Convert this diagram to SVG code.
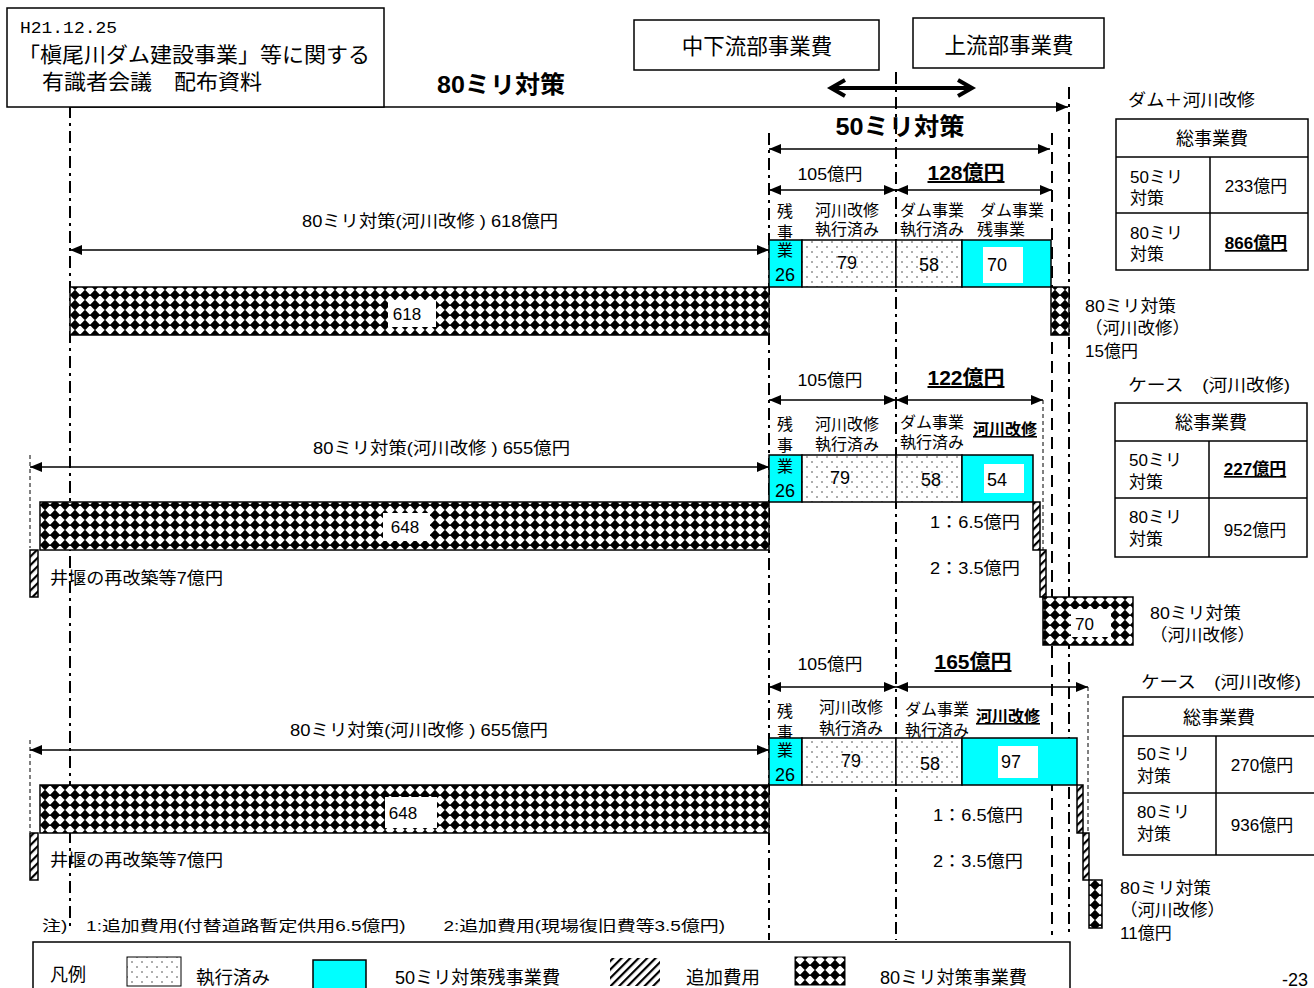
<svg xmlns="http://www.w3.org/2000/svg" width="1314" height="988" viewBox="0 0 1314 988">
<style>
.t{font-family:"Liberation Sans","Noto Sans CJK JP",sans-serif;font-size:16px;fill:#000}
.n{font-size:18px}
.m{font-size:17px}
.c{text-anchor:middle}
.b{font-weight:bold}
.u{text-decoration:underline}
.box{fill:#fff;stroke:#000;stroke-width:1.5}
.bar{stroke:#000;stroke-width:1.5}
.cy{fill:#00ffff;stroke:#000;stroke-width:1.5}
.dd{fill:none;stroke:#000;stroke-width:2;stroke-dasharray:12 5 3 5}
.ld{fill:none;stroke:#000;stroke-width:2;stroke-dasharray:12 7}
.td{fill:none;stroke:#000;stroke-width:1;stroke-dasharray:4 3}
.ar{fill:none;stroke:#000;stroke-width:1.5;marker-start:url(#ah);marker-end:url(#ah)}
.ar1{fill:none;stroke:#000;stroke-width:1.5;marker-end:url(#ah)}
.tb{fill:none;stroke:#000;stroke-width:1.5}
.wl{fill:#fff}
</style>
<defs>
<marker id="ah" viewBox="0 0 12 10" refX="12" refY="5" markerWidth="12" markerHeight="10" markerUnits="userSpaceOnUse" orient="auto-start-reverse"><path d="M0 0L12 5L0 10Z" fill="#000"/></marker>
<pattern id="dots" width="10" height="10" patternUnits="userSpaceOnUse"><rect width="10" height="10" fill="#fff"/><circle cx="2" cy="2" r="0.8" fill="#444"/><circle cx="7" cy="7" r="0.8" fill="#444"/></pattern>
<pattern id="chk" width="10" height="10" patternUnits="userSpaceOnUse"><rect width="10" height="10" fill="#fff"/><path d="M5 -0.3L10.3 5L5 10.3L-0.3 5Z" fill="#000"/></pattern>
<pattern id="hatch" width="6" height="6" patternUnits="userSpaceOnUse" patternTransform="rotate(45)"><rect width="6" height="6" fill="#fff"/><rect width="2.2" height="6" fill="#000"/></pattern>
</defs>

<g id="connectors">
<line class="dd" x1="70" y1="106" x2="70" y2="930"/>
<line class="dd" x1="769" y1="133" x2="769" y2="940"/>
<line class="dd" x1="896" y1="72" x2="896" y2="940"/>
<line class="ld" x1="1052" y1="133" x2="1052" y2="935"/>
<line class="dd" x1="1069" y1="87" x2="1069" y2="935"/>
<line class="td" x1="30" y1="455" x2="30" y2="548"/>
<line class="td" x1="30" y1="740" x2="30" y2="832"/>
<line class="td" x1="1043" y1="400" x2="1043" y2="600"/>
<line class="td" x1="1088" y1="687" x2="1088" y2="880"/>
<line class="ar1" x1="70" y1="107" x2="1068" y2="107"/>
<g fill="none" stroke="#000" stroke-width="4">
<line x1="831" y1="88" x2="972" y2="88"/>
<polyline points="845,80 831,88 845,96"/>
<polyline points="958,80 972,88 958,96"/>
</g>
<line class="ar" x1="769" y1="149" x2="1050" y2="149"/>
<line class="ar" x1="769" y1="190" x2="896" y2="190"/>
<line class="ar" x1="896" y1="190" x2="1052" y2="190"/>
<line class="ar" x1="70" y1="250" x2="769" y2="250"/>
<line class="ar" x1="769" y1="400" x2="896" y2="400"/>
<line class="ar" x1="896" y1="400" x2="1043" y2="400"/>
<line class="ar" x1="30" y1="467" x2="769" y2="467"/>
<line class="ar" x1="769" y1="687" x2="896" y2="687"/>
<line class="ar" x1="896" y1="687" x2="1088" y2="687"/>
<line class="ar" x1="30" y1="750" x2="769" y2="750"/>
</g>

<g id="title">
<rect class="box" x="7" y="8" width="377" height="99"/>
<text x="20" y="33" style="font-family:'Liberation Mono',monospace;font-size:17px" textLength="97" lengthAdjust="spacingAndGlyphs">H21.12.25</text>
<text class="t" x="18" y="62" style="font-size:21px" textLength="352" lengthAdjust="spacingAndGlyphs">「槇尾川ダム建設事業」等に関する</text>
<text class="t" x="42" y="89" style="font-size:21px" textLength="220" lengthAdjust="spacingAndGlyphs">有識者会議　配布資料</text>
</g>

<g id="headers">
<rect class="box" x="634" y="20" width="245" height="50"/>
<text class="t c" x="757" y="54" style="font-size:21.5px">中下流部事業費</text>
<rect class="box" x="913" y="18" width="191" height="50"/>
<text class="t c" x="1009" y="53" style="font-size:21.5px">上流部事業費</text>
<text class="t c b" x="501" y="93" style="font-size:24px" textLength="128" lengthAdjust="spacingAndGlyphs">80ミリ対策</text>
<text class="t c b" x="900" y="135" style="font-size:24px" textLength="129" lengthAdjust="spacingAndGlyphs">50ミリ対策</text>
</g>

<g id="section1">
<text class="t c m" x="830" y="180" textLength="65" lengthAdjust="spacingAndGlyphs">105億円</text>
<text class="t c b u" x="966" y="180" style="font-size:20px" textLength="77" lengthAdjust="spacingAndGlyphs">128億円</text>
<text class="t c" x="785" y="217">残</text><text class="t c" x="785" y="238">事</text>
<text class="t c" x="847" y="216">河川改修</text><text class="t c" x="847" y="235">執行済み</text>
<text class="t c" x="932" y="216">ダム事業</text><text class="t c" x="932" y="235">執行済み</text>
<text class="t c" x="1012" y="216">ダム事業</text><text class="t" x="977" y="235">残事業</text>
<text class="t m" x="302" y="227" textLength="256" lengthAdjust="spacingAndGlyphs">80ミリ対策(河川改修 ) 618億円</text>
<rect class="cy" x="769" y="240" width="33" height="47"/>
<text class="t c" x="785" y="256">業</text><text class="t c n" x="785" y="281">26</text>
<rect class="bar" fill="url(#dots)" x="802" y="240" width="94" height="47"/>
<text class="t c n" x="847" y="269">79</text>
<rect class="bar" fill="url(#dots)" x="896" y="240" width="66" height="47"/>
<text class="t c n" x="929" y="271">58</text>
<rect class="cy" x="962" y="240" width="89" height="47"/>
<rect class="wl" x="983" y="247" width="40" height="36"/>
<text class="t c n" x="997" y="271">70</text>
<rect class="bar" fill="url(#chk)" x="70" y="287" width="699" height="48"/>
<rect class="wl" x="388" y="300" width="48" height="27"/>
<text class="t c m" x="407" y="320">618</text>
<rect class="bar" fill="url(#chk)" x="1051" y="287" width="18" height="48"/>
<text class="t m" x="1085" y="312" textLength="91" lengthAdjust="spacingAndGlyphs">80ミリ対策</text>
<text class="t m" x="1085" y="334" textLength="105" lengthAdjust="spacingAndGlyphs">（河川改修）</text>
<text class="t m" x="1085" y="357">15億円</text>
</g>

<g id="table1">
<text class="t m" x="1128" y="106" textLength="127" lengthAdjust="spacingAndGlyphs">ダム＋河川改修</text>
<rect class="tb" x="1116" y="119" width="192" height="151"/>
<line class="tb" x1="1116" y1="157" x2="1308" y2="157"/>
<line class="tb" x1="1116" y1="213" x2="1308" y2="213"/>
<line class="tb" x1="1210" y1="157" x2="1210" y2="270"/>
<text class="t c n" x="1212" y="145">総事業費</text>
<text class="t m" x="1130" y="183">50ミリ</text><text class="t m" x="1130" y="204">対策</text>
<text class="t c m" x="1256" y="192">233億円</text>
<text class="t m" x="1130" y="239">80ミリ</text><text class="t m" x="1130" y="260">対策</text>
<text class="t c b u m" x="1256" y="249">866億円</text>
</g>

<g id="section2">
<text class="t c m" x="830" y="386" textLength="65" lengthAdjust="spacingAndGlyphs">105億円</text>
<text class="t c b u" x="966" y="385" style="font-size:20px" textLength="77" lengthAdjust="spacingAndGlyphs">122億円</text>
<text class="t c" x="785" y="430">残</text><text class="t c" x="785" y="451">事</text>
<text class="t c" x="847" y="430">河川改修</text><text class="t c" x="847" y="450">執行済み</text>
<text class="t c" x="932" y="428">ダム事業</text><text class="t c" x="932" y="448">執行済み</text>
<text class="t c b u" x="1005" y="435">河川改修</text>
<text class="t m" x="313" y="454" textLength="257" lengthAdjust="spacingAndGlyphs">80ミリ対策(河川改修 ) 655億円</text>
<rect class="cy" x="769" y="455" width="33" height="47"/>
<text class="t c" x="785" y="472">業</text><text class="t c n" x="785" y="497">26</text>
<rect class="bar" fill="url(#dots)" x="802" y="455" width="94" height="47"/>
<text class="t c n" x="840" y="484">79</text>
<rect class="bar" fill="url(#dots)" x="896" y="455" width="66" height="47"/>
<text class="t c n" x="931" y="486">58</text>
<rect class="cy" x="962" y="455" width="71" height="47"/>
<rect class="wl" x="984" y="464" width="40" height="29"/>
<text class="t c n" x="997" y="486">54</text>
<rect class="bar" fill="url(#chk)" x="40" y="502" width="729" height="48"/>
<rect class="wl" x="383" y="513" width="47" height="28"/>
<text class="t c m" x="405" y="533">648</text>
<rect class="bar" fill="url(#hatch)" x="30" y="550" width="8" height="47"/>
<text class="t m" x="50" y="584" textLength="173" lengthAdjust="spacingAndGlyphs">井堰の再改築等7億円</text>
<rect class="bar" fill="url(#hatch)" x="1033" y="502" width="7" height="48"/>
<text class="t m" x="930" y="528" textLength="90" lengthAdjust="spacingAndGlyphs">1：6.5億円</text>
<rect class="bar" fill="url(#hatch)" x="1040" y="550" width="6" height="47"/>
<text class="t m" x="930" y="574" textLength="90" lengthAdjust="spacingAndGlyphs">2：3.5億円</text>
<rect class="bar" fill="url(#chk)" x="1043" y="597" width="90" height="48"/>
<rect class="wl" x="1071" y="609" width="40" height="28"/>
<text class="t m" x="1075" y="630">70</text>
<text class="t m" x="1150" y="619" textLength="91" lengthAdjust="spacingAndGlyphs">80ミリ対策</text>
<text class="t m" x="1150" y="641" textLength="105" lengthAdjust="spacingAndGlyphs">（河川改修）</text>
</g>

<g id="table2">
<text class="t m" x="1128" y="391" textLength="162" lengthAdjust="spacingAndGlyphs">ケース　(河川改修)</text>
<rect class="tb" x="1115" y="403" width="192" height="154"/>
<line class="tb" x1="1115" y1="441" x2="1307" y2="441"/>
<line class="tb" x1="1115" y1="498" x2="1307" y2="498"/>
<line class="tb" x1="1209" y1="441" x2="1209" y2="557"/>
<text class="t c n" x="1211" y="429">総事業費</text>
<text class="t m" x="1129" y="466">50ミリ</text><text class="t m" x="1129" y="488">対策</text>
<text class="t c b u m" x="1255" y="475">227億円</text>
<text class="t m" x="1129" y="523">80ミリ</text><text class="t m" x="1129" y="545">対策</text>
<text class="t c m" x="1255" y="536">952億円</text>
</g>

<g id="section3">
<text class="t c m" x="830" y="670" textLength="65" lengthAdjust="spacingAndGlyphs">105億円</text>
<text class="t c b u" x="973" y="669" style="font-size:20px" textLength="77" lengthAdjust="spacingAndGlyphs">165億円</text>
<text class="t c" x="785" y="717">残</text><text class="t c" x="785" y="738">事</text>
<text class="t c" x="851" y="713">河川改修</text><text class="t c" x="851" y="734">執行済み</text>
<text class="t c" x="937" y="715">ダム事業</text><text class="t c" x="937" y="736">執行済み</text>
<text class="t c b u" x="1008" y="722">河川改修</text>
<text class="t m" x="290" y="736" textLength="258" lengthAdjust="spacingAndGlyphs">80ミリ対策(河川改修 ) 655億円</text>
<rect class="cy" x="769" y="738" width="33" height="47"/>
<text class="t c" x="785" y="756">業</text><text class="t c n" x="785" y="781">26</text>
<rect class="bar" fill="url(#dots)" x="802" y="738" width="94" height="47"/>
<text class="t c n" x="851" y="767">79</text>
<rect class="bar" fill="url(#dots)" x="896" y="738" width="66" height="47"/>
<text class="t c n" x="930" y="770">58</text>
<rect class="cy" x="962" y="738" width="115" height="47"/>
<rect class="wl" x="998" y="746" width="40" height="32"/>
<text class="t c n" x="1011" y="768">97</text>
<rect class="bar" fill="url(#chk)" x="40" y="785" width="729" height="48"/>
<rect class="wl" x="385" y="797" width="52" height="31"/>
<text class="t c m" x="403" y="819">648</text>
<rect class="bar" fill="url(#hatch)" x="30" y="833" width="8" height="47"/>
<text class="t m" x="50" y="866" textLength="173" lengthAdjust="spacingAndGlyphs">井堰の再改築等7億円</text>
<rect class="bar" fill="url(#hatch)" x="1077" y="785" width="6" height="48"/>
<text class="t m" x="933" y="821" textLength="90" lengthAdjust="spacingAndGlyphs">1：6.5億円</text>
<rect class="bar" fill="url(#hatch)" x="1083" y="833" width="6" height="47"/>
<text class="t m" x="933" y="867" textLength="90" lengthAdjust="spacingAndGlyphs">2：3.5億円</text>
<rect class="bar" fill="url(#chk)" x="1089" y="880" width="13" height="48"/>
<text class="t m" x="1120" y="894" textLength="91" lengthAdjust="spacingAndGlyphs">80ミリ対策</text>
<text class="t m" x="1120" y="916" textLength="105" lengthAdjust="spacingAndGlyphs">（河川改修）</text>
<text class="t m" x="1120" y="939">11億円</text>
</g>

<g id="table3">
<text class="t m" x="1141" y="688" textLength="160" lengthAdjust="spacingAndGlyphs">ケース　(河川改修)</text>
<rect class="tb" x="1123" y="697" width="192" height="158"/>
<line class="tb" x1="1123" y1="736" x2="1315" y2="736"/>
<line class="tb" x1="1123" y1="793" x2="1315" y2="793"/>
<line class="tb" x1="1216" y1="736" x2="1216" y2="855"/>
<text class="t c n" x="1219" y="724">総事業費</text>
<text class="t m" x="1137" y="760">50ミリ</text><text class="t m" x="1137" y="782">対策</text>
<text class="t c m" x="1262" y="771">270億円</text>
<text class="t m" x="1137" y="818">80ミリ</text><text class="t m" x="1137" y="840">対策</text>
<text class="t c m" x="1262" y="831">936億円</text>
</g>

<g id="note">
<text class="t" x="42" y="931" style="font-size:15px" textLength="683" lengthAdjust="spacingAndGlyphs">注)　1:追加費用(付替道路暫定供用6.5億円)　　2:追加費用(現場復旧費等3.5億円)</text>
</g>

<g id="legend">
<rect class="box" x="33" y="942" width="1037" height="60"/>
<text class="t n" x="50" y="981">凡例</text>
<rect class="bar" fill="url(#dots)" x="127" y="957" width="54" height="29" style="stroke-width:1"/>
<text class="t" x="196" y="984" style="font-size:18px" textLength="74" lengthAdjust="spacingAndGlyphs">執行済み</text>
<rect class="cy" x="313" y="960" width="53" height="30"/>
<text class="t" x="395" y="984" style="font-size:18px" textLength="165" lengthAdjust="spacingAndGlyphs">50ミリ対策残事業費</text>
<rect fill="url(#hatch)" x="610" y="958" width="50" height="28"/>
<text class="t" x="686" y="984" style="font-size:18px" textLength="74" lengthAdjust="spacingAndGlyphs">追加費用</text>
<rect class="bar" fill="url(#chk)" x="795" y="957" width="50" height="28" style="stroke-width:1"/>
<text class="t" x="880" y="984" style="font-size:18px" textLength="147" lengthAdjust="spacingAndGlyphs">80ミリ対策事業費</text>
</g>
<text class="t" x="1282" y="986" style="font-size:18px">-23</text>
</svg>
